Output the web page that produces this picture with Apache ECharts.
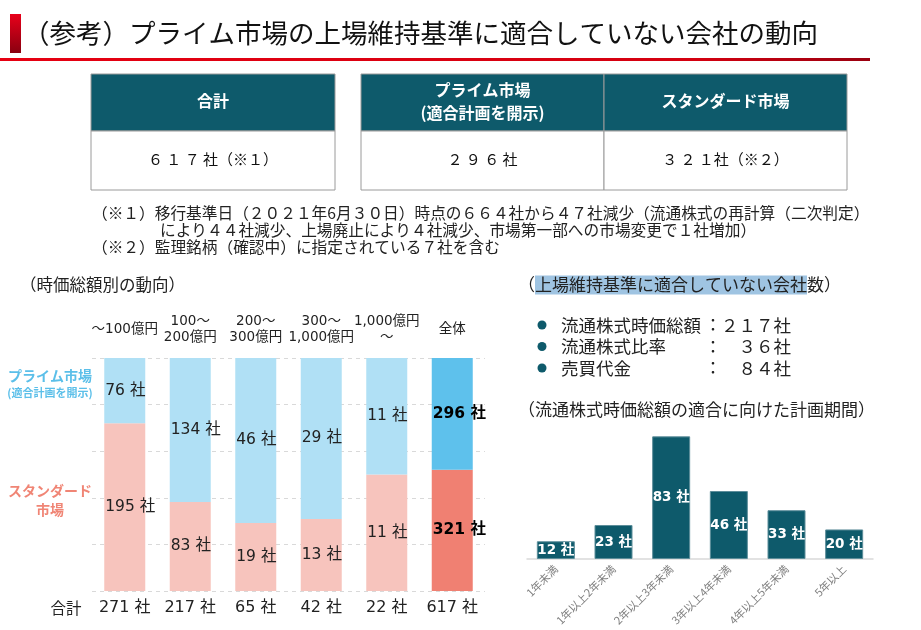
<!DOCTYPE html>
<html><head><meta charset="utf-8">
<script src="https://cdn.jsdelivr.net/npm/echarts@6/dist/echarts.min.js"></script>
<style>html,body{margin:0;padding:0;background:#fff}#c{width:921px;height:630px}</style>
</head><body><div id="c"></div>
<script>
const FONT = '"Noto Sans CJK JP","Noto Sans",sans-serif';
const NUMFONT = '"DejaVu Sans","Noto Sans CJK JP",sans-serif';
// --- data ---
const pageTitle = '（参考）プライム市場の上場維持基準に適合していない会社の動向';
const summaryHeaders = ['合計', 'プライム市場\n(適合計画を開示)', 'スタンダード市場'];
const summaryValues = ['６ １ ７ 社（※１）', '２ ９ ６ 社', '３ ２ １社（※２）'];
const noteLines = [
  '（※１）移行基準日（２０２１年6月３０日）時点の６６４社から４７社減少（流通株式の再計算（二次判定）',
  'により４４社減少、上場廃止により４社減少、市場第一部への市場変更で１社増加）',
  '（※２）監理銘柄（確認中）に指定されている７社を含む'
];
const capCategories = ['～100億円', '100～\n200億円', '200～\n300億円', '300～\n1,000億円', '1,000億円\n～', '全体'];
const primeCounts = [76, 134, 46, 29, 11, 296];
const standardCounts = [195, 83, 19, 13, 11, 321];
const criteriaNames = ['流通株式時価総額', '流通株式比率', '売買代金'];
const criteriaCounts = ['２１７社', '３６社', '８４社'];
const periodCategories = ['1年未満', '1年以上2年未満', '2年以上3年未満', '3年以上4年未満', '4年以上5年未満', '5年以上'];
const periodCounts = [12, 23, 83, 46, 33, 20];

// derived
const totals = primeCounts.map((v, i) => v + standardCounts[i]);
const primeShare = primeCounts.map((v, i) => v / totals[i] * 100);
const stdShare = standardCounts.map((v, i) => v / totals[i] * 100);
const lastIdx = capCategories.length - 1;

const TEAL = '#0e5a6b';
const chart = echarts.init(document.getElementById('c'), null, {renderer: 'canvas'});

function txt(x, y, text, o) {
  o = o || {};
  return {type: 'text', x: x, y: y, silent: true, style: Object.assign({
    text: text, fontFamily: FONT, fontSize: 14, fill: '#222', align: 'left', verticalAlign: 'middle'
  }, o)};
}

const graphics = [];
// title
graphics.push({type: 'rect', shape: {x: 10, y: 14, width: 11, height: 39}, style: {fill: new echarts.graphic.LinearGradient(0, 0, 0, 1, [{offset: 0, color: '#e8001a'}, {offset: 1, color: '#8a0010'}])}});
graphics.push(txt(23, 33, pageTitle, {fontSize: 26.5, fill: '#111'}));
graphics.push({type: 'rect', shape: {x: 0, y: 58, width: 870, height: 3}, style: {fill: new echarts.graphic.LinearGradient(0, 0, 1, 0, [{offset: 0, color: '#e60012'}, {offset: 0.8, color: '#d40010'}, {offset: 1, color: '#9a0010'}])}});

// table
const cells = [{x: 91, w: 244}, {x: 361, w: 243}, {x: 604, w: 243}];
cells.forEach((c, i) => {
  graphics.push({type: 'rect', shape: {x: c.x, y: 74, width: c.w, height: 57}, style: {fill: TEAL, stroke: '#9a9a9a', lineWidth: 1}});
  graphics.push({type: 'rect', shape: {x: c.x, y: 131, width: c.w, height: 59}, style: {fill: '#fff', stroke: '#9a9a9a', lineWidth: 1}});
  graphics.push(txt(c.x + c.w / 2, 101, summaryHeaders[i], {fill: '#fff', fontWeight: 'bold', fontSize: 16, align: 'center', lineHeight: 23}));
  graphics.push(txt(c.x + c.w / 2, 159, summaryValues[i], {fontSize: 15, align: 'center', fill: '#111'}));
});
// notes
graphics.push(txt(92, 213, noteLines[0], {fontSize: 15.7}));
graphics.push(txt(160, 230, noteLines[1], {fontSize: 15.7}));
graphics.push(txt(92, 247, noteLines[2], {fontSize: 15.7}));

// left section
graphics.push(txt(20, 285, '（時価総額別の動向）', {fontSize: 16.5}));
graphics.push(txt(50, 376, 'プライム市場', {fontSize: 14, fontWeight: 'bold', fill: '#5bbfe9', align: 'center'}));
graphics.push(txt(50, 393, '(適合計画を開示)', {fontSize: 11, fontWeight: 'bold', fill: '#5bbfe9', align: 'center'}));
graphics.push(txt(50, 491, 'スタンダード', {fontSize: 14, fontWeight: 'bold', fill: '#f08575', align: 'center'}));
graphics.push(txt(50, 510, '市場', {fontSize: 14, fontWeight: 'bold', fill: '#f08575', align: 'center'}));
graphics.push(txt(66, 608, '合計', {fontSize: 15.5, align: 'center'}));

// right section
graphics.push({type: 'text', x: 518, y: 285, silent: true, style: {
  text: '（{hl|上場維持基準に適合していない会社}数）', fontFamily: FONT, fontSize: 17, fill: '#222', verticalAlign: 'middle',
  rich: {hl: {fontFamily: FONT, fontSize: 17, fill: '#222', backgroundColor: '#9fc4e2', padding: [1, 0, 1, 0]}}
}});
criteriaNames.forEach((n, i) => {
  const y = 325 + i * 21.5;
  graphics.push({type: 'circle', shape: {cx: 542, cy: y, r: 4.5}, style: {fill: TEAL}});
  graphics.push(txt(561, y, n, {fontSize: 17.5}));
  graphics.push(txt(713, y, '：', {fontSize: 17, align: 'center'}));
  graphics.push(txt(791, y, criteriaCounts[i], {fontSize: 17.5, align: 'right'}));
});
graphics.push(txt(518, 410, '（流通株式時価総額の適合に向けた計画期間）', {fontSize: 17}));

const option = {
  animation: false,
  textStyle: {fontFamily: FONT},
  graphic: graphics,
  grid: [
    {left: 92, right: 436, top: 358, bottom: 39},
    {left: 527, right: 48, top: 426, bottom: 71}
  ],
  xAxis: [
    {type: 'category', gridIndex: 0, position: 'top', data: capCategories,
      axisLine: {show: false}, axisTick: {show: false},
      axisLabel: {fontSize: 13.5, fontFamily: NUMFONT, color: '#222', lineHeight: 16, margin: 29, verticalAlign: 'middle', interval: 0}},
    {type: 'category', gridIndex: 0, position: 'bottom', data: totals.map(t => t + ' 社'),
      axisLine: {show: false}, axisTick: {show: false},
      axisLabel: {fontSize: 16, fontFamily: NUMFONT, color: '#222', margin: 17, verticalAlign: 'middle', interval: 0}},
    {type: 'category', gridIndex: 1, data: periodCategories,
      axisLine: {lineStyle: {color: '#d9d9d9', width: 1.5}}, axisTick: {show: false},
      axisLabel: {fontSize: 11, color: '#7f7f7f', rotate: 45, margin: 8, interval: 0}}
  ],
  yAxis: [
    {type: 'value', gridIndex: 0, min: 0, max: 100, interval: 20,
      axisLine: {show: false}, axisTick: {show: false}, axisLabel: {show: false},
      splitLine: {lineStyle: {type: [4, 4], color: '#d9d9d9', width: 1}}},
    {type: 'value', gridIndex: 1, min: 0, max: 90, show: false, splitLine: {show: false}}
  ],
  series: [
    {type: 'bar', name: 'スタンダード市場', xAxisIndex: 0, yAxisIndex: 0, stack: 'cap', barWidth: 41,
      data: stdShare.map((v, i) => ({value: v, raw: standardCounts[i],
        itemStyle: {color: i === lastIdx ? '#f08072' : '#f7c4bd'},
        label: i === lastIdx ? {fontWeight: 'bold', color: '#000'} : {}})),
      label: {show: true, position: 'insideLeft', distance: 1, fontSize: 15.5, fontFamily: NUMFONT, color: '#222',
        formatter: p => p.data.raw + ' 社'}},
    {type: 'bar', name: 'プライム市場', xAxisIndex: 0, yAxisIndex: 0, stack: 'cap', barWidth: 41,
      data: primeShare.map((v, i) => ({value: v, raw: primeCounts[i],
        itemStyle: {color: i === lastIdx ? '#5ec1ec' : '#b0e0f5'},
        label: i === lastIdx ? {fontWeight: 'bold', color: '#000'} : {}})),
      label: {show: true, position: 'insideLeft', distance: 1, fontSize: 15.5, fontFamily: NUMFONT, color: '#222',
        formatter: p => p.data.raw + ' 社'}},
    {type: 'bar', xAxisIndex: 2, yAxisIndex: 1, barWidth: 38, data: periodCounts,
      itemStyle: {color: TEAL, borderColor: '#5d8e9a', borderWidth: 1},
      label: {show: true, position: 'inside', color: '#fff', fontWeight: 'bold', fontSize: 13.5, fontFamily: NUMFONT,
        formatter: '{c} 社'}}
  ]
};
chart.setOption(option);
</script></body></html>
